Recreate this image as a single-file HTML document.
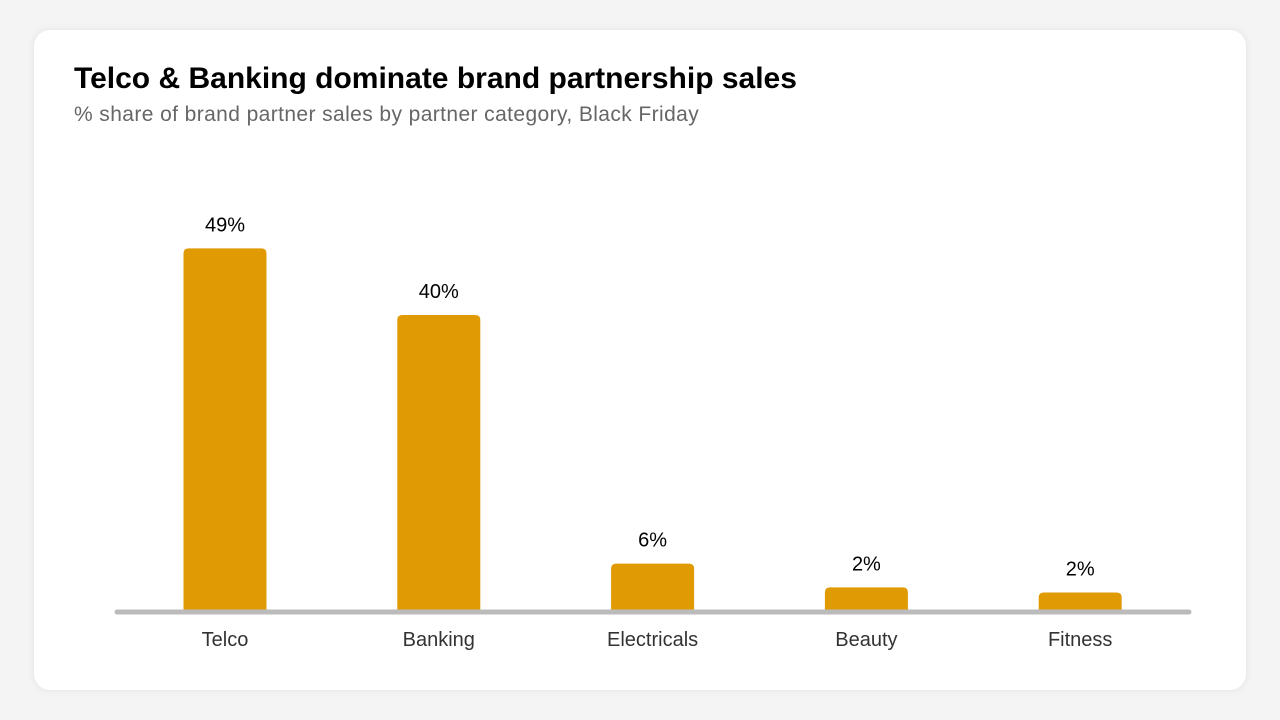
<!DOCTYPE html>
<html><head><meta charset="utf-8"><style>
html,body{margin:0;padding:0;width:1280px;height:720px;background:#f4f4f4;overflow:hidden;font-family:"Liberation Sans",sans-serif}
#card{position:absolute;left:34px;top:30px;width:1212px;height:660px;background:#fff;border-radius:16px;box-shadow:0 0 8px rgba(0,0,0,0.08)}
#title{position:absolute;left:74px;top:62px;font-size:30px;font-weight:bold;color:#000;letter-spacing:0px}
#subtitle{position:absolute;left:74px;top:103px;font-size:21px;color:#666;font-weight:300;letter-spacing:0.4px}
svg{position:absolute;left:0;top:0}
</style></head><body>
<div id="card"></div>
<div id="title">Telco &amp; Banking dominate brand partnership sales</div>
<div id="subtitle">% share of brand partner sales by partner category, Black Friday</div>
<svg id="chart" width="1280" height="720"></svg>
<script>
const categories = ["Telco","Banking","Electricals","Beauty","Fitness"];
const values = [49,40,6.4,3.2,2.5];
const valueLabels = ["49%","40%","6%","2%","2%"];
const NS="http://www.w3.org/2000/svg";
const svg=document.getElementById('chart');
const baseY=611, pxPer=7.4, x0=225, step=213.8, bw=83;
const yScale=v=>baseY-v*pxPer;
const xScale=i=>x0+i*step;
function mk(t,a){const e=document.createElementNS(NS,t);for(const k in a)e.setAttribute(k,a[k]);svg.appendChild(e);return e;}
categories.forEach((c,i)=>{
  const cx=xScale(i), top=yScale(values[i]), r=5;
  const p=mk('path',{d:`M${cx-bw/2},${baseY} L${cx-bw/2},${top+r} Q${cx-bw/2},${top} ${cx-bw/2+r},${top} L${cx+bw/2-r},${top} Q${cx+bw/2},${top} ${cx+bw/2},${top+r} L${cx+bw/2},${baseY} Z`,fill:'#E09B04'});
  
  
  const v=mk('text',{x:cx,y:top-17,'text-anchor':'middle','font-size':20,fill:'#000','font-family':'Liberation Sans, sans-serif'});
  v.textContent=valueLabels[i];
  
  
  const l=mk('text',{x:cx,y:646,'text-anchor':'middle','font-size':20,fill:'#333','font-family':'Liberation Sans, sans-serif'});
  l.textContent=c;
  
  
});
const ax=mk('line',{x1:117,x2:1189,y1:baseY+1,y2:baseY+1,stroke:'#bbbbbb','stroke-width':5,'stroke-linecap':'round'});


</script>
</body></html>
